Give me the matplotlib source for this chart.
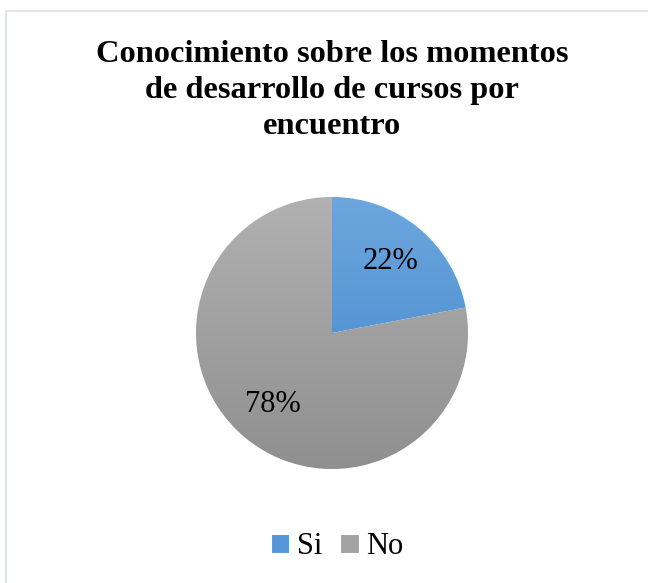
import numpy as np
import matplotlib.pyplot as plt
from matplotlib.patches import Rectangle
from matplotlib.colors import LinearSegmentedColormap

# datos
etiquetas = ['Si', 'No']
valores = [22, 78]
titulo = 'Conocimiento sobre los momentos\nde desarrollo de cursos por\nencuentro'

# colores (degradado arriba -> abajo)
grad_si = ['#6da6dd', '#3f86cc']
grad_no = ['#b1b1b1', '#8f8f8f']
medio = ['#5696d6', '#a2a2a2']

W, H = 648, 583
fig = plt.figure(figsize=(W / 100, H / 100), dpi=100)
fig.patch.set_facecolor('white')

# marco del gráfico
fig.patches.append(Rectangle((6 / W, -0.05), 1.1, 1 - 11 / H + 0.05,
                             transform=fig.transFigure, fill=False,
                             edgecolor='#d9dee7', linewidth=1.2))

# ejes del pastel
cx, cy, r = 332, 333, 136
ax = fig.add_axes([(cx - r) / W, (H - cy - r) / H, 2 * r / W, 2 * r / H])
ax.set_xlim(-1, 1)
ax.set_ylim(-1, 1)
ax.set_aspect('equal')
ax.axis('off')

wedges, textos, autotextos = ax.pie(
    valores, colors=medio, startangle=90, counterclock=False, radius=1,
    autopct='%1.0f%%', pctdistance=0.68,
    wedgeprops=dict(linewidth=0.8, edgecolor='white'),
    textprops=dict(fontfamily='Liberation Serif', fontsize=22, color='black'))

gy = np.linspace(0, 1, 256).reshape(-1, 1)
for w, g in zip(wedges, [grad_si, grad_no]):
    cmap = LinearSegmentedColormap.from_list('g', g)
    im = ax.imshow(gy, cmap=cmap, extent=(-1, 1, -1, 1), origin='upper',
                   aspect='auto', zorder=2)
    im.set_clip_path(w)
for t in autotextos:
    t.set_zorder(4)
ax.set_xlim(-1, 1)
ax.set_ylim(-1, 1)

fig.text(cx / W, 1 - 40 / H, titulo, ha='center', va='top',
         fontfamily='Liberation Serif', fontweight='bold', fontsize=23.3,
         linespacing=1.32)

fig.legend(wedges, etiquetas, loc='center', bbox_to_anchor=(337 / W, 1 - 547 / H),
           ncol=2, frameon=False, handlelength=0.6, handleheight=0.6,
           handletextpad=0.25, columnspacing=0.6, borderpad=0,
           prop=dict(family='Liberation Serif', size=22))

fig.savefig('out.png', dpi=100)
